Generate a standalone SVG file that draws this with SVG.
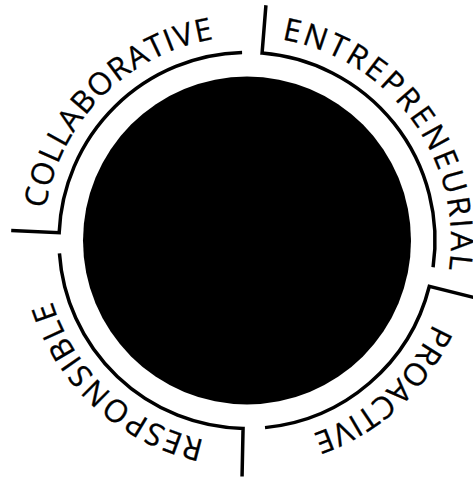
<svg xmlns="http://www.w3.org/2000/svg" xmlns:xlink="http://www.w3.org/1999/xlink" width="473" height="483" viewBox="0 0 473 483">
<style>
.ring{fill:none;stroke:#000;stroke-width:3.5;stroke-linejoin:miter}
.lbl{font-family:"Open Sans","Noto Sans","DejaVu Sans",sans-serif;font-size:31px;fill:#000;stroke:#000;stroke-width:0.3}
</style>
<defs>
<path id="base" d="M247 36.5 A204 204 0 1 1 247 444.5 A204 204 0 1 1 247 36.5"/>
</defs>
<rect width="473" height="483" fill="#fff"/>
<g id="core"><circle cx="247" cy="240.5" r="164" fill="#000"/></g>
<g id="connectors">
<path id="entrepreneurial-bracket" class="ring" d="M265.93 5.26 L262.08 53.11 A188 188 0 0 1 433.08 267.31"/>
<path id="proactive-bracket" class="ring" d="M475.89 297.99 L429.34 286.3 A188 188 0 0 1 265.02 427.63"/>
<path id="responsible-bracket" class="ring" d="M242.06 476.45 L243.06 428.46 A188 188 0 0 1 59.44 253.29"/>
<path id="collaborative-bracket" class="ring" d="M11.21 230.62 L59.17 232.63 A188 188 0 0 1 242.08 52.56"/>
</g>
<g id="entrepreneurial"><text class="lbl"><textPath xlink:href="#base" startOffset="34.9" textLength="315" lengthAdjust="spacing">ENTREPRENEURIAL</textPath></text></g>
<g id="proactive"><text class="lbl"><textPath xlink:href="#base" startOffset="405.9" textLength="168" lengthAdjust="spacing">PROACTIVE</textPath></text></g>
<g id="responsible"><text class="lbl"><textPath xlink:href="#base" startOffset="683.3" textLength="216" lengthAdjust="spacing">RESPONSIBLE</textPath></text></g>
<g id="collaborative"><text class="lbl"><textPath xlink:href="#base" startOffset="992.7" textLength="255" lengthAdjust="spacing">COLLABORATIVE</textPath></text></g>
</svg>
